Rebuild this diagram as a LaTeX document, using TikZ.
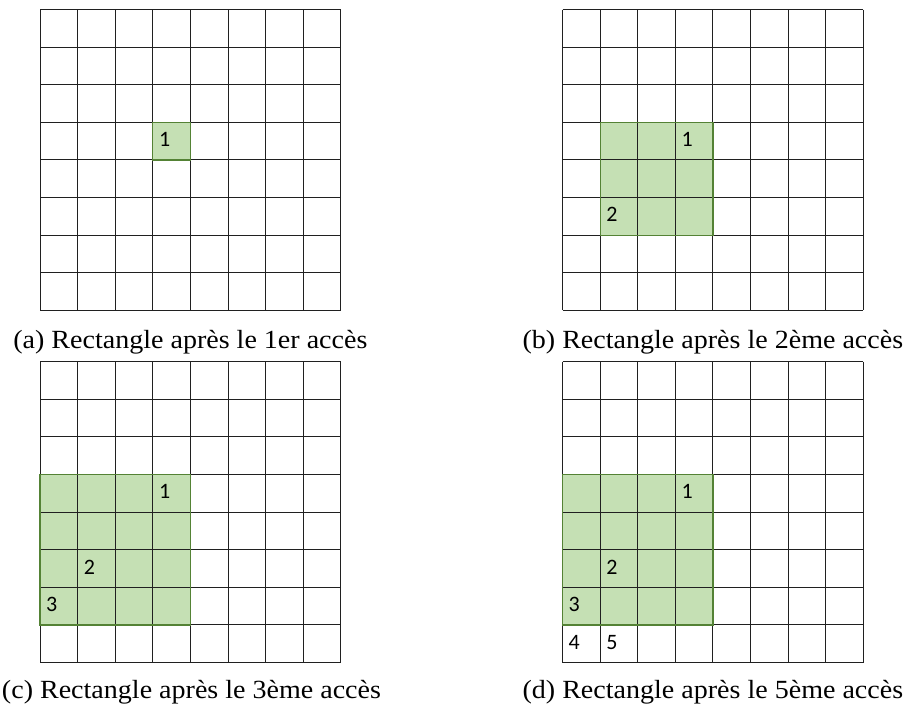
\documentclass[tikz,border=0pt]{standalone}
\usepackage{fontspec}
\newfontfamily\carlito{Carlito}
\newfontfamily\captfont[FakeStretch=1.07]{Liberation Serif}
\definecolor{cellfill}{HTML}{C5E0B4}
\definecolor{celledge}{HTML}{548235}
\definecolor{gridline}{HTML}{202020}
\tikzset{
  gridl/.style={draw=gridline, line width=1pt},
  greenfill/.style={fill=cellfill},
  greenedge/.style={draw=celledge, line width=1.2pt},
  num/.style={anchor=base west, inner sep=0pt, xshift=6pt, yshift=-24.4pt, font=\carlito\fontsize{22}{22}\selectfont},
  capt/.style={anchor=base, inner sep=0pt, font=\captfont\fontsize{26.2}{30}\selectfont}
}
\newcommand{\cellgrid}{%
  \foreach \i in {0,...,8} {
    \draw[gridl] (\i,0) -- (\i,8);
    \draw[gridl] (0,\i) -- (8,\i);
  }%
}
\begin{document}
\begin{tikzpicture}[x=1pt,y=-1pt]
\useasboundingbox (0,0) rectangle (909,705);
% (a)
\begin{scope}[shift={(40pt,-9.5pt)}, x=37.6pt, y=-37.6pt]
  \fill[greenfill] (3,3) rectangle (4,4);
  \cellgrid
  \draw[greenedge] (3,3) rectangle (4,4);
  \node[num] (a1) at (3,3) {1};
\end{scope}
\node[capt] (capa) at (190.4,348) {(a) Rectangle après le 1er accès};
% (b)
\begin{scope}[shift={(562.5pt,-9.5pt)}, x=37.6pt, y=-37.6pt]
  \fill[greenfill] (1,3) rectangle (4,6);
  \cellgrid
  \draw[greenedge] (1,3) rectangle (4,6);
  \node[num] (b1) at (3,3) {1};
  \node[num] (b2) at (1,5) {2};
\end{scope}
\node[capt] (capb) at (712.9,348) {(b) Rectangle après le 2ème accès};
% (c)
\begin{scope}[shift={(40pt,-361.7pt)}, x=37.6pt, y=-37.6pt]
  \fill[greenfill] (0,3) rectangle (4,7);
  \cellgrid
  \draw[greenedge] (0,3) rectangle (4,7);
  \node[num] (c1) at (3,3) {1};
  \node[num] (c2) at (1,5) {2};
  \node[num] (c3) at (0,6) {3};
\end{scope}
\node[capt] (capc) at (191.5,698) {(c) Rectangle après le 3ème accès};
% (d)
\begin{scope}[shift={(562.5pt,-361.7pt)}, x=37.6pt, y=-37.6pt]
  \fill[greenfill] (0,3) rectangle (4,7);
  \cellgrid
  \draw[greenedge] (0,3) rectangle (4,7);
  \node[num] (d1) at (3,3) {1};
  \node[num] (d2) at (1,5) {2};
  \node[num] (d3) at (0,6) {3};
  \node[num] (d4) at (0,7) {4};
  \node[num] (d5) at (1,7) {5};
\end{scope}
\node[capt] (capd) at (712.9,698) {(d) Rectangle après le 5ème accès};
\end{tikzpicture}
\end{document}
